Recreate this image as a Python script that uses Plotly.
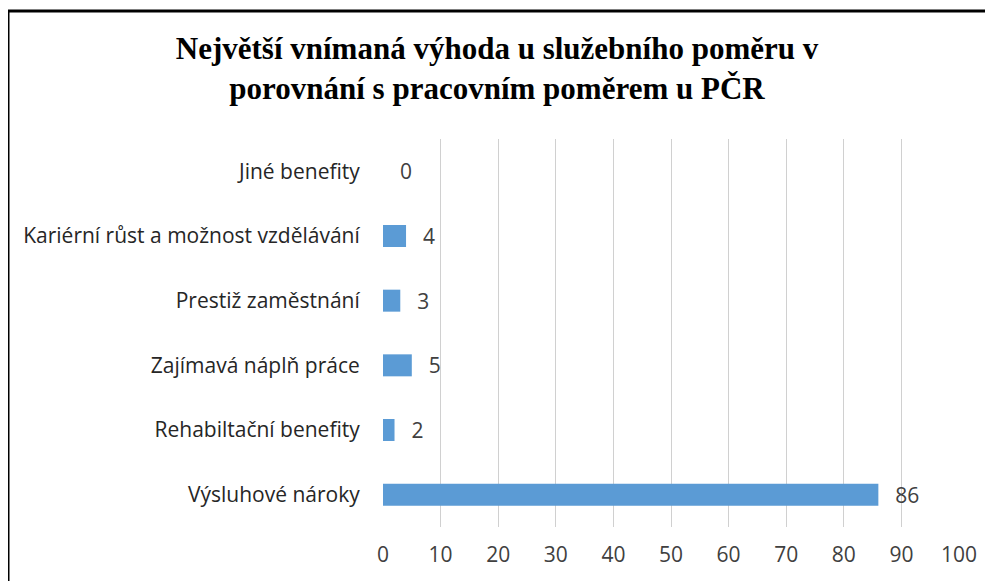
import plotly.graph_objects as go

categories = [
    "Jiné benefity",
    "Kariérní růst a možnost vzdělávání",
    "Prestiž zaměstnání",
    "Zajímavá náplň práce",
    "Rehabiltační benefity",
    "Výsluhové nároky",
]
values = [0, 4, 3, 5, 2, 86]
tick_vals = [0, 10, 20, 30, 40, 50, 60, 70, 80, 90, 100]
title_text = "Největší vnímaná výhoda u služebního poměru v<br>porovnání s pracovním poměrem u PČR"

# page body has an 8px margin; the figure is sized / positioned to compensate
OFF = 8
W, H = 993 - OFF, 581 - OFF
L = 383 - OFF
T = 139 - OFF
R = W - (959 - OFF)
B = H - (527 - OFF)

fig = go.Figure(
    go.Bar(
        x=values,
        y=categories,
        orientation="h",
        marker=dict(color="#5B9BD5", line=dict(width=0)),
        text=values,
        texttemplate="\u2002\u2009%{x}",
        textposition="outside",
        constraintext="none",
        textfont=dict(family="Open Sans", size=21, color="#404040"),
        cliponaxis=False,
        width=0.34,
    )
)

pw = W - L - R
ph = H - T - B
def px_x(p):
    return (p - OFF - L) / pw
def px_y(p):
    return (H - B - (p - OFF)) / ph

fig.add_shape(type="line", xref="paper", yref="paper",
              x0=px_x(8), x1=px_x(1010), y0=px_y(11), y1=px_y(11),
              line=dict(color="black", width=3))
fig.add_shape(type="line", xref="paper", yref="paper",
              x0=px_x(8), x1=px_x(8), y0=px_y(11), y1=px_y(600),
              line=dict(color="black", width=3))

fig.update_layout(
    width=W, height=H,
    margin=dict(l=L, r=R, t=T, b=B),
    paper_bgcolor="white", plot_bgcolor="white",
    showlegend=False,
    title=dict(
        text=title_text,
        font=dict(family="Liberation Serif", size=31, color="black", weight="bold"),
        x=(497 - OFF) / W, xanchor="center",
        y=1 - 51 / H, yanchor="top",
        yref="container",
    ),
    xaxis=dict(
        range=[0, 100],
        tickvals=tick_vals,
        showgrid=True, gridcolor="#D0D0D0", gridwidth=1.3,
        zeroline=False, showline=False,
        ticks="outside", ticklen=9, tickcolor="rgba(0,0,0,0)",
        tickfont=dict(family="Open Sans", size=21, color="#404040"),
    ),
    yaxis=dict(
        autorange="reversed",
        showgrid=False, zeroline=False, showline=False,
        ticks="outside", ticklen=18, tickcolor="rgba(0,0,0,0)",
        tickfont=dict(family="Open Sans", size=21, color="#262626"),
    ),
)

fig.write_html("out.html")
